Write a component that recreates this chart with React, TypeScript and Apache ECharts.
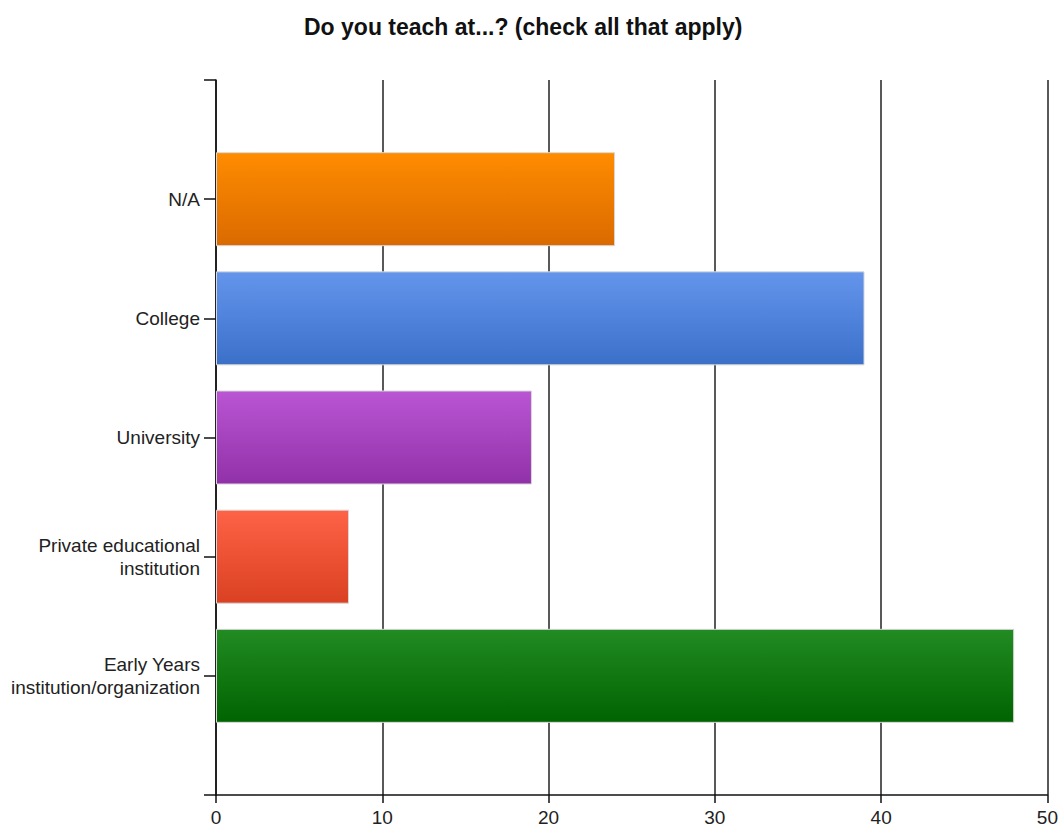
import React, { useEffect, useRef } from "react";
import * as echarts from "echarts";

const titleText = "Do you teach at...? (check all that apply)";
const categories = [
  "",
  "N/A",
  "College",
  "University",
  "Private educational\ninstitution",
  "Early Years\ninstitution/organization",
  "",
];
const values: (number | null)[] = [null, 24, 39, 19, 8, 48, null];
const topColors = ["", "#FF8C00", "#6495ED", "#BA55D3", "#FF6347", "#228B22", ""];
const bottomColors = ["", "#DA6A00", "#3B70C9", "#9131A9", "#DA4022", "#006400", ""];
const xTicks = [0, 10, 20, 30, 40, 50];

export default function App() {
  const ref = useRef<HTMLDivElement>(null);
  useEffect(() => {
    document.body.style.margin = "0";
    const chart = echarts.init(ref.current!, null, { renderer: "svg" });
    const data = values.map((v, i) =>
      v === null
        ? "-"
        : {
            value: v,
            itemStyle: {
              color: new echarts.graphic.LinearGradient(0, 0, 0, 1, [
                { offset: 0, color: topColors[i] },
                { offset: 1, color: bottomColors[i] },
              ]),
              borderColor: "#d8d8d8",
              borderWidth: 1,
            },
          }
    );
    chart.setOption({
      animation: false,
      backgroundColor: "#ffffff",
      title: {
        text: titleText,
        left: 299,
        top: 10,
        textStyle: {
          fontFamily: "Liberation Sans",
          fontWeight: "bold",
          fontSize: 23,
          color: "#111",
        },
      },
      grid: { left: 216, right: 13, top: 80, bottom: 31, containLabel: false },
      xAxis: {
        type: "value",
        min: xTicks[0],
        max: xTicks[xTicks.length - 1],
        interval: 10,
        axisLine: { show: true, lineStyle: { color: "#111", width: 1.5 } },
        axisTick: { show: true, length: 8, lineStyle: { color: "#111", width: 1.5 } },
        axisLabel: {
          margin: 13,
          fontFamily: "Liberation Sans",
          fontSize: 19,
          color: "#222",
        },
        splitLine: { show: true, lineStyle: { color: "#222", width: 1.5 } },
      },
      yAxis: {
        type: "category",
        data: categories,
        inverse: true,
        boundaryGap: false,
        axisLine: { show: true, lineStyle: { color: "#111", width: 1.5 } },
        axisTick: {
          show: true,
          length: 12,
          interval: 0,
          lineStyle: { color: "#111", width: 1.5 },
        },
        axisLabel: {
          interval: 0,
          margin: 16,
          fontFamily: "Liberation Sans",
          fontSize: 19,
          lineHeight: 23,
          color: "#222",
          align: "right",
        },
        splitLine: { show: false },
      },
      series: [
        {
          type: "bar",
          data,
          barWidth: 94,
        },
      ],
    });
    return () => chart.dispose();
  }, []);
  return <div ref={ref} style={{ width: 1061, height: 827 }} />;
}
